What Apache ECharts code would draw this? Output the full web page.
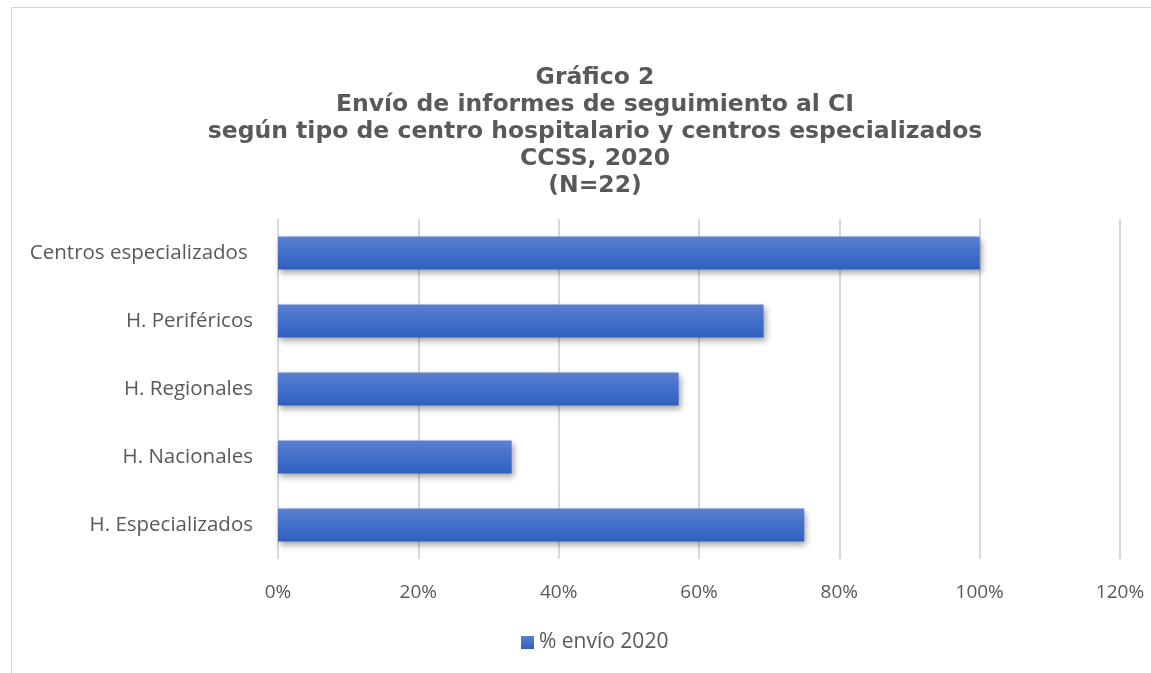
<!DOCTYPE html>
<html>
<head>
<meta charset="utf-8">
<script src="https://cdn.jsdelivr.net/npm/echarts@6/dist/echarts.min.js"></script>
<style>
  html, body { margin: 0; padding: 0; background: #fff; }
  #chart { width: 1151px; height: 673px; }
  #frame { position: absolute; left: 11px; top: 7px; right: -2px; bottom: -2px; border: 1px solid #d9d9d9; pointer-events: none; }
</style>
</head>
<body>
<div id="chart"></div>
<div id="frame"></div>
<script>
// categorias de abajo hacia arriba (eje de categorias invertido en echarts)
var categorias = ['H. Especializados', 'H. Nacionales', 'H. Regionales', 'H. Periféricos', 'Centros especializados '];
var porcentajes = [75, 33.3, 57.1, 69.2, 100];
var ticks = [0, 20, 40, 60, 80, 100, 120];
var serieNombre = '% envío 2020';

var titulo = 'Gráfico 2\nEnvío de informes de seguimiento al CI\nsegún tipo de centro hospitalario y centros especializados\nCCSS, 2020\n(N=22)';

var chart = echarts.init(document.getElementById('chart'));
chart.setOption({
  animation: false,
  textStyle: { fontFamily: '"Open Sans", "Liberation Sans", sans-serif' },
  title: {
    text: titulo,
    left: 590,
    textAlign: 'center',
    top: 59,
    textStyle: {
      fontFamily: '"DejaVu Sans", "Liberation Sans", sans-serif',
      fontWeight: 'bold',
      fontSize: 23.5,
      lineHeight: 27,
      color: '#595959'
    }
  },
  legend: {
    bottom: 15,
    left: 516,
    icon: 'rect',
    itemWidth: 13,
    itemHeight: 13,
    itemGap: 5,
    textStyle: { fontSize: 21, color: '#595959' },
    data: [serieNombre]
  },
  grid: { left: 278, right: 31, top: 219, height: 340, containLabel: false },
  xAxis: {
    type: 'value',
    min: ticks[0],
    max: ticks[ticks.length - 1],
    interval: 20,
    axisLine: { show: false },
    axisTick: { show: false },
    axisLabel: { formatter: '{value}%', fontSize: 19, color: '#595959', margin: 24 },
    splitLine: { lineStyle: { color: '#d9d9d9', width: 2 } }
  },
  yAxis: {
    type: 'category',
    data: categorias,
    axisLine: { show: false },
    axisTick: { show: false },
    axisLabel: { fontSize: 20.5, color: '#595959', margin: 25 }
  },
  series: [{
    name: serieNombre,
    type: 'bar',
    data: porcentajes,
    barWidth: 33,
    itemStyle: {
      color: new echarts.graphic.LinearGradient(0, 0, 0, 1, [
        { offset: 0, color: '#5b80d0' },
        { offset: 0.5, color: '#4270cb' },
        { offset: 1, color: '#2f5fbd' }
      ]),
      shadowColor: 'rgba(0,0,0,0.35)',
      shadowBlur: 6,
      shadowOffsetX: 2,
      shadowOffsetY: 3
    }
  }]
});
</script>
</body>
</html>
